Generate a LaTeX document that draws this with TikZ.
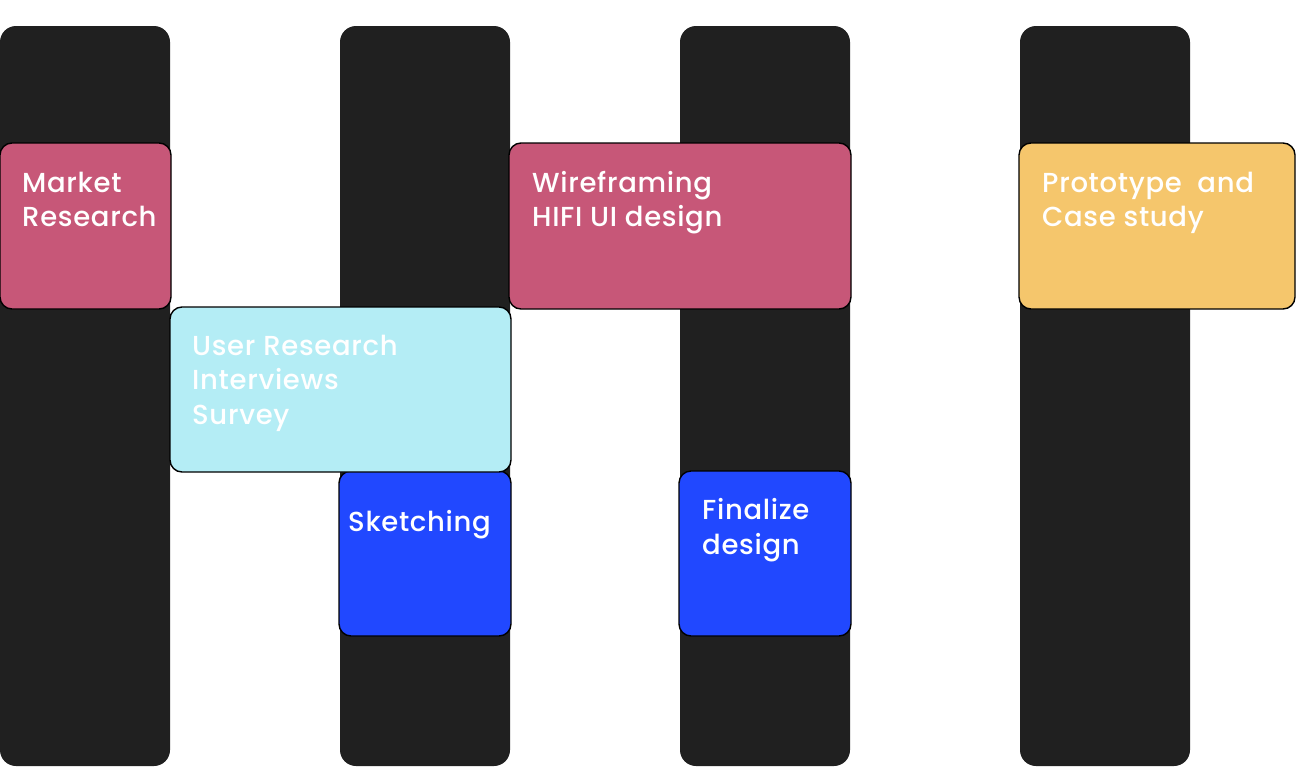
\documentclass[tikz,border=0pt]{standalone}
\usepackage{fontspec}
\setmainfont{Poppins Medium}[LetterSpace=2.5]
\definecolor{barc}{HTML}{202020}
\definecolor{pinkc}{HTML}{C75778}
\definecolor{cyanc}{HTML}{B4EDF5}
\definecolor{bluec}{HTML}{2148FF}
\definecolor{yellowc}{HTML}{F5C66C}
\tikzset{
  bar/.style={fill=barc, rounded corners=16pt},
  box/.style={draw=black, line width=1.4pt, rounded corners=12pt},
  lbl/.style={anchor=base west, inner sep=0pt, text=white, align=left,
    font=\fontsize{27.5}{34.5}\selectfont}
}
\begin{document}
\begin{tikzpicture}[x=1pt,y=-1pt]
\useasboundingbox (0,0) rectangle (1298,782);
% bars
\fill[bar] (0,26) rectangle (170,766);
\fill[bar] (340,26) rectangle (510,766);
\fill[bar] (680,26) rectangle (850,766);
\fill[bar] (1020,26) rectangle (1190,766);
% boxes
\draw[box, fill=pinkc] (0,143) rectangle (171,309);
\draw[box, fill=bluec] (339,471) rectangle (511,636);
\draw[box, fill=cyanc] (170,307) rectangle (511,472);
\draw[box, fill=pinkc] (509,143) rectangle (851,309);
\draw[box, fill=bluec] (679,471) rectangle (851,636);
\draw[box, fill=yellowc] (1019,143) rectangle (1295,309);
% labels (anchor = baseline of last line)
\node[lbl] (market) at (22,226.5) {Market\\Research};
\node[lbl] (user) at (192,424) {User Research\\Interviews\\Survey};
\node[lbl] (sketch) at (348,531.5) {Sketching};
\node[lbl] (wire) at (532,226.5) {Wireframing\\HIFI UI design};
\node[lbl] (final) at (702,554) {Finalize\\design};
\node[lbl] (proto) at (1042,226.5) {Prototype\ \ and\\Case study};
\end{tikzpicture}
\end{document}
